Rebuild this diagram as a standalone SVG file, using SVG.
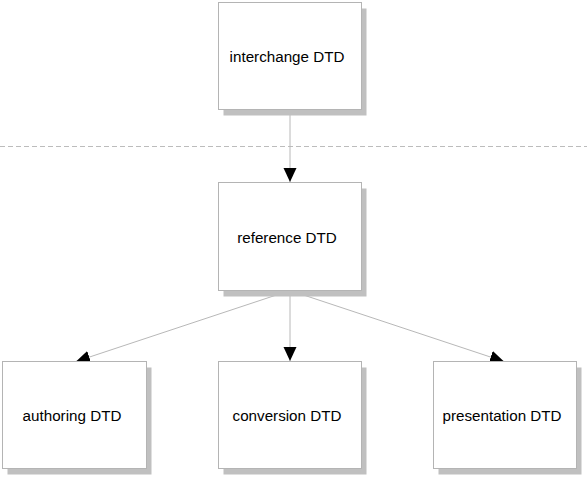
<svg xmlns="http://www.w3.org/2000/svg" width="587" height="478" viewBox="0 0 587 478">
<style>
.shadow{fill:#c0c0c0;stroke:none}
.box{fill:#ffffff;stroke:#b4b4b4;stroke-width:1}
.lbl{font-family:"Liberation Sans",Arial,sans-serif;font-size:15.2px;fill:#000;text-anchor:middle}
.conn{stroke:#b8b8b8;stroke-width:1;fill:none}
.sep{stroke:#bcbcbc;stroke-width:1;stroke-dasharray:5,3;fill:none}
</style>
<defs>
<marker id="arr" markerUnits="userSpaceOnUse" markerWidth="15" markerHeight="14" refX="14" refY="6.5" orient="auto" viewBox="0 0 15 14">
<path d="M0,0 L14,6.5 L0,13 z" fill="#000"/>
</marker>
</defs>
<rect width="587" height="478" fill="#ffffff"/>
<line class="sep" x1="0" y1="146.5" x2="587" y2="146.5"/>
<g id="connectors">
<line class="conn" x1="290" y1="115" x2="290" y2="182" marker-end="url(#arr)"/>
<line class="conn" x1="290" y1="290.5" x2="290" y2="361" marker-end="url(#arr)"/>
<line class="conn" x1="290" y1="290.5" x2="76" y2="361.5" marker-end="url(#arr)"/>
<line class="conn" x1="290" y1="290.5" x2="504" y2="361.5" marker-end="url(#arr)"/>
</g>
<g id="interchange">
<rect class="shadow" x="223.5" y="8.5" width="143" height="107"/>
<rect class="box" x="218.5" y="2.5" width="143" height="107"/>
<text class="lbl" x="287" y="62">interchange DTD</text>
</g>
<g id="reference">
<rect class="shadow" x="223.5" y="188.5" width="143" height="108"/>
<rect class="box" x="218.5" y="182.5" width="143" height="108"/>
<text class="lbl" x="287" y="242.5">reference DTD</text>
</g>
<g id="authoring">
<rect class="shadow" x="7.5" y="367.5" width="144" height="107"/>
<rect class="box" x="2.5" y="361.5" width="144" height="107"/>
<text class="lbl" x="72" y="421">authoring DTD</text>
</g>
<g id="conversion">
<rect class="shadow" x="223.5" y="367.5" width="143" height="107"/>
<rect class="box" x="218.5" y="361.5" width="143" height="107"/>
<text class="lbl" x="287" y="421">conversion DTD</text>
</g>
<g id="presentation">
<rect class="shadow" x="438.5" y="367.5" width="143" height="107"/>
<rect class="box" x="433.5" y="361.5" width="143" height="107"/>
<text class="lbl" x="502" y="421">presentation DTD</text>
</g>
</svg>
